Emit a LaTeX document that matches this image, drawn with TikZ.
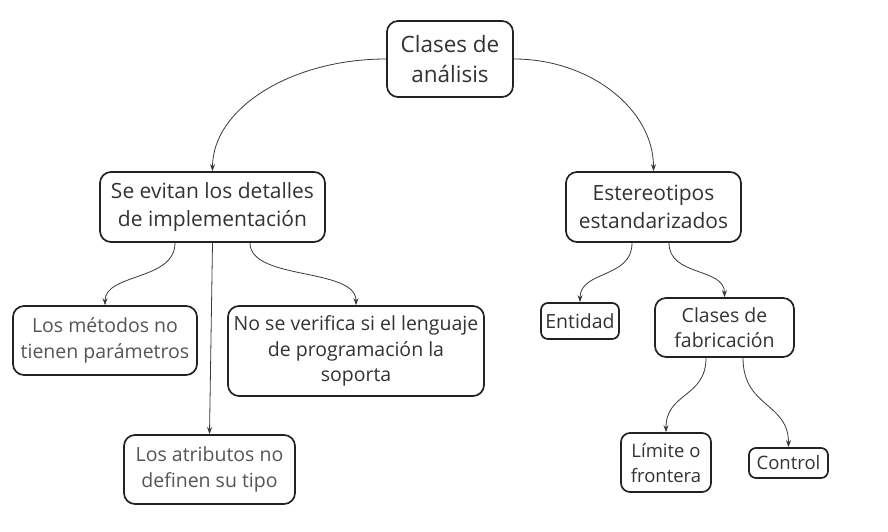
\documentclass[tikz,border=0pt]{standalone}
\usepackage{fontspec}
\setmainfont{Open Sans}
\usetikzlibrary{arrows.meta,calc}
\definecolor{txt}{HTML}{333333}
\definecolor{txtl}{HTML}{555555}
\definecolor{edge}{HTML}{222222}
\definecolor{lnk}{HTML}{3a3a3a}
\begin{document}
\begin{tikzpicture}[x=1pt,y=-1pt,
  box/.style={draw=edge,line width=1.7pt,rounded corners=11pt,align=center,inner sep=0pt,text=txt},
  smallbox/.style={box,rounded corners=7pt},
  fA/.style={font=\fontsize{22.5}{30}\selectfont},
  fB/.style={font=\fontsize{21}{28}\selectfont},
  fC/.style={font=\fontsize{19.5}{25.5}\selectfont},
  fD/.style={font=\fontsize{18.5}{25}\selectfont},
  conn/.style={draw=lnk,line width=0.8pt,-{Stealth[length=7pt,width=5pt]}}]
\useasboundingbox (0,0) rectangle (888,532);
\fill[white] (0,0) rectangle (888,532);
\node[box,fA,minimum width=126pt,minimum height=76pt] (root) at (450,59) {Clases de\\análisis};
\node[box,fB,minimum width=225pt,minimum height=70pt] (lft) at (212.5,207) {Se evitan los detalles\\de implementación};
\node[box,fB,minimum width=175pt,minimum height=70pt] (rgt) at (653.5,207) {Estereotipos\\estandarizados};
\node[box,fC,text=txtl,minimum width=184pt,minimum height=69pt] (met) at (105,340.5) {Los métodos no\\tienen parámetros};
\node[box,fC,minimum width=256pt,minimum height=90pt] (ver) at (356,351) {No se verifica si el lenguaje\\de programación la\\soporta};
\node[box,fC,text=txtl,minimum width=171pt,minimum height=69pt] (atr) at (209.5,469.5) {Los atributos no\\definen su tipo};
\node[smallbox,fC,minimum width=78pt,minimum height=36pt] (ent) at (580,321) {Entidad};
\node[box,fC,minimum width=139pt,minimum height=59pt] (fab) at (724.5,327.5) {Clases de\\fabricación};
\node[box,fD,rounded corners=9pt,minimum width=90pt,minimum height=59pt] (lim) at (666,462.5) {Límite o\\frontera};
\node[smallbox,fD,minimum width=79pt,minimum height=30pt] (con) at (788.5,463) {Control};

\draw[conn] (root.west) .. controls +(-96,0) and +(0,-62) .. (lft.north);
\draw[conn] (root.east) .. controls +(76,0) and +(0,-62) .. (rgt.north);

\draw[conn] ($(lft.south)+(-37.5,0)$) .. controls +(0,38) and +(0,-32) .. (met.north);
\draw[conn] (lft.south) -- (atr.north);
\draw[conn] ($(lft.south)+(37.5,0)$) .. controls +(0,38) and +(0,-38) .. (ver.north);

\draw[conn] ($(rgt.south)+(-21.5,0)$) .. controls +(0,36) and +(0,-32) .. (ent.north);
\draw[conn] ($(rgt.south)+(15.5,0)$) .. controls +(0,34) and +(0,-30) .. (fab.north);

\draw[conn] ($(fab.south)+(-18.5,0)$) .. controls +(0,40) and +(0,-40) .. (lim.north);
\draw[conn] ($(fab.south)+(18.5,0)$) .. controls +(0,50) and +(0,-45) .. (con.north);
\end{tikzpicture}
\end{document}
